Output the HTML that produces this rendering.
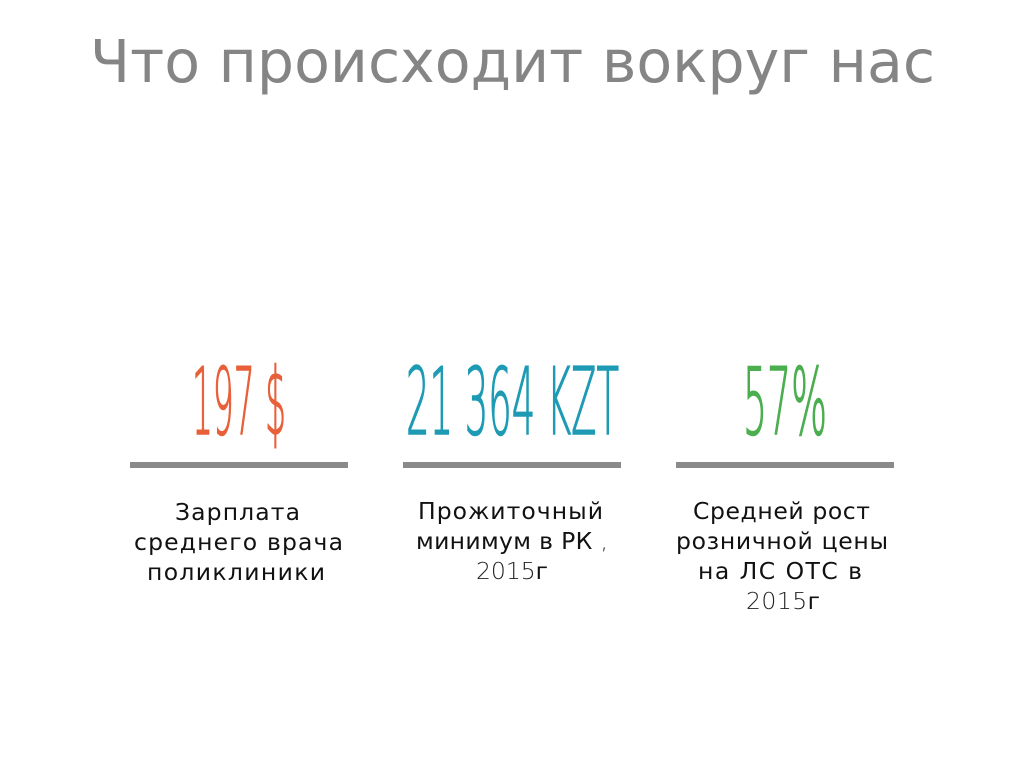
<!DOCTYPE html>
<html><head><meta charset="utf-8"><style>
html,body{margin:0;padding:0;background:#fff;width:1024px;height:768px;overflow:hidden}
svg{display:block}
.t{font-family:"DejaVu Sans","Liberation Sans","Noto Sans CJK SC",sans-serif}
.b{font-family:"DejaVu Sans","Liberation Sans",sans-serif;font-size:23.5px;fill:#111}
.n{font-family:"DejaVu Sans","Liberation Sans",sans-serif;font-weight:200}
.l{font-family:"DejaVu Sans","Liberation Sans",sans-serif;font-weight:200;fill:#222}
</style></head><body>
<svg width="1024" height="768" viewBox="0 0 1024 768" xmlns="http://www.w3.org/2000/svg">
<rect width="1024" height="768" fill="#fff"/>
<text class="t" x="90" y="82" font-size="59" fill="#858585" textLength="845" lengthAdjust="spacingAndGlyphs">Что происходит вокруг нас</text>

<text class="n" x="192" y="434" font-size="93" fill="#E8603A" stroke="#E8603A" stroke-width="1.6" textLength="94" lengthAdjust="spacingAndGlyphs">197 $</text>
<text class="n" x="406" y="434" font-size="93" fill="#1E9BB4" stroke="#1E9BB4" stroke-width="1.6" textLength="213" lengthAdjust="spacingAndGlyphs">21 364 KZT</text>
<text class="n" x="743" y="434" font-size="93" fill="#4BAE4F" stroke="#4BAE4F" stroke-width="1.6" textLength="84" lengthAdjust="spacingAndGlyphs">57%</text>

<rect x="130" y="462" width="218" height="6" fill="#8A8A8A"/>
<rect x="403" y="462" width="218" height="6" fill="#8A8A8A"/>
<rect x="676" y="462" width="218" height="6" fill="#8A8A8A"/>

<text class="b" x="175" y="520" textLength="125" lengthAdjust="spacing">Зарплата</text>
<text class="b" x="134" y="550" textLength="209" lengthAdjust="spacing">среднего врача</text>
<text class="b" x="147" y="580" textLength="178" lengthAdjust="spacing">поликлиники</text>

<text class="b" x="418" y="519" textLength="185" lengthAdjust="spacing">Прожиточный</text>
<text class="b" x="416" y="549" textLength="192" lengthAdjust="spacing">минимум в РК <tspan class="l">,</tspan></text>
<text class="b" x="476" y="579" textLength="72" lengthAdjust="spacing"><tspan class="l">2015</tspan>г</text>

<text class="b" x="693" y="519" textLength="177" lengthAdjust="spacing">Средней рост</text>
<text class="b" x="676" y="549" textLength="212" lengthAdjust="spacing">розничной цены</text>
<text class="b" x="698" y="579" textLength="164" lengthAdjust="spacing">на ЛС ОТС в</text>
<text class="b" x="746" y="609" textLength="74" lengthAdjust="spacing"><tspan class="l">2015</tspan>г</text>
</svg>
</body></html>
